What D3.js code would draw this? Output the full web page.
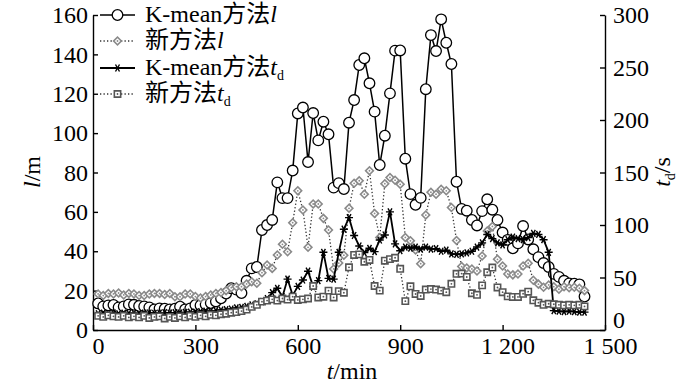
<!DOCTYPE html>
<html><head><meta charset="utf-8">
<script src="https://cdn.jsdelivr.net/npm/d3@7"></script>
<style>
body{margin:0;background:#fff}svg{display:block}
svg text{font-family:'Liberation Serif','DejaVu Serif','Times New Roman',serif,'Noto Sans CJK SC' !important;}
</style>
</head><body>
<svg id="c" width="700" height="384"></svg>
<script>
// ---- data ----
const times = d3.range(15, 1441, 15); // minutes, 96 samples
const kmeanL = [
 13.5,12,12.5,12.7,11.5,12,13,12.8,12.2,12,
 11.5,10.5,11,10.8,10.5,10.8,11.8,10.5,11,12.7,
 12.5,13,13.7,14.5,16.1,18.5,21.2,20.5,18.8,25,
 31.3,32,50.8,53.3,55.9,75,67,67,81,110,
 113,85.3,110.2,96.3,105.8,99.4,72.3,74.6,71.6,105.3,
 116.8,134.6,138,125.3,110.9,83.8,98.7,120.2,141.9,142,
 87,69,63.6,67.1,122.3,149.8,141.7,157.8,145.9,135.1,
 75.3,61.5,60.6,55.9,53.1,60.4,66.4,61.1,55.9,49.5,
 45.8,41.5,44,52.8,46,41,37,34,32,28.5,
 27,25,23.7,23.5,23.2,17];
const newL = [
 18.3,17.5,18.6,18.3,18.8,17.8,18.6,18.3,17.5,17.5,
 18.3,18.6,18.6,18,18.6,16.9,16.9,18.3,18.3,17,
 16.2,17,17.8,18.6,19,20,21.5,22,22,23.4,
 24.5,23.7,29.1,33,31.3,38.1,43.5,39.8,54.5,70.7,
 61,42,64,64,56.7,50.8,31,34,38,61.8,
 74.5,75.8,69,80.9,59.2,47,74.3,77.5,76.1,74,
 47,45.3,40.6,33.7,58.4,70,69,71.5,70.7,62.2,
 45.5,32.2,31.5,31,30,37.6,50.3,52.6,35.9,32.5,
 28.5,28,28.5,32.5,33.9,25.3,23.3,21.7,22.9,22,
 20.7,22,21.5,21.7,21.2,20];
const kmeanTd = [
 15.5,16,15.8,16.2,15.5,16,15.8,16,15.5,16,
 16.2,15.8,16,16.5,16,16.5,16.2,16.8,17,17,
 17.5,18,18,18.5,19,19.5,20,21,21.5,22.5,
 24,25,27,30,35.6,39.7,31.7,48.5,33,41.5,
 47.6,56,41.3,47,74,49.2,48.5,74,96,107,
 90,80,73.7,77.8,74.6,85.7,90.5,112.5,82,75.5,
 79,78,79,77,79,77,77.5,75,76,72.5,
 72,72.5,73.5,75,79,83,91,87,83,81,
 86,88.5,87,86,88,92,91,86,74,18.5,
 18,17.5,18,17.5,17,17];
const newTd = [
 13.5,12.5,14,13,12.5,13.5,12,13,12,13.5,
 11.5,12.5,13,11,12.5,11.5,13,12,13.5,12.5,
 14,13,14.5,14,15,15.5,16.5,17,18,19.5,
 22,24,27,28,29.2,28,30,29,31.7,28.6,
 29.2,30,41.9,31,31.7,37.5,31,37,35.5,59.7,
 71.5,72,65,66.7,41.9,37.5,66,67.5,68.8,58.3,
 27.5,41.6,34.3,32.4,38.5,39,38.5,37.5,36,44,
 53.5,53.7,50.5,35,33.5,42.5,55,59.5,40.5,36,
 32,31.5,31.5,34.5,36.5,28.3,26,24,25,24.5,
 24,23.5,24,23.5,24,22.5];
const xTicks = [0,300,600,900,1200,1500];
const xTickLabels = ["0","300","600","900","1 200","1 500"];
const lTicks = [0,20,40,60,80,100,120,140,160];
const tdTicks = [0,50,100,150,200,250,300];

// ---- layout ----
const L=93, R=605, T=15, B=330;
const x = d3.scaleLinear().domain([0,1500]).range([L,R]);
const yL = d3.scaleLinear().domain([0,160]).range([B,T]);
const yR = d3.scaleLinear().domain([0,300]).range([B,T]);
const svg = d3.select('#c');

function styleAxis(g){
  g.attr('font-family',null).attr('font-size',null);
  g.selectAll('path.domain').attr('stroke','#000').attr('stroke-width',1.4);
  g.selectAll('.tick line').attr('stroke','#000').attr('stroke-width',1.4);
  g.selectAll('text').attr('font-size',24).attr('fill','#000');
}
const gx = svg.append('g').attr('transform',`translate(0,${B})`)
  .call(d3.axisBottom(x).tickValues(xTicks).tickSize(-5).tickSizeOuter(0).tickPadding(7)
    .tickFormat((d,i)=>xTickLabels[i]));
styleAxis(gx);
gx.selectAll('text').attr('dx', 5);
const gl = svg.append('g').attr('transform',`translate(${L},0)`)
  .call(d3.axisLeft(yL).tickValues(lTicks).tickSize(-5).tickSizeOuter(0).tickPadding(5));
styleAxis(gl);
const gr = svg.append('g').attr('transform',`translate(${R},0)`)
  .call(d3.axisRight(yR).tickValues(tdTicks).tickSize(-5).tickSizeOuter(0).tickPadding(8));
styleAxis(gr);
gr.selectAll('text').filter(d=>d===0).attr('dy','-0.12em');

// ---- series ----
const series = [
  {vals:kmeanL, y:yL, line:{stroke:'#000', w:1.5, dash:null}, marker:'circle'},
  {vals:newL, y:yL, line:{stroke:'#333', w:1.3, dash:'1.3,2.2'}, marker:'diamond'},
  {vals:kmeanTd, y:yR, line:{stroke:'#000', w:1.8, dash:null}, marker:'asterisk'},
  {vals:newTd, y:yR, line:{stroke:'#333', w:1.3, dash:'1.3,2.2'}, marker:'square'}
];
const symDiamond = d3.symbol(d3.symbolSquare, 30)();
const symSquare = d3.symbol(d3.symbolSquare, 40)();
const symAst = d3.symbol(d3.symbolAsterisk, 45)();

function drawMarker(sel, type){
  if(type==='circle'){
    sel.append('circle').attr('r',5.3).attr('fill','#fff').attr('stroke','#000').attr('stroke-width',1.3);
  } else if(type==='diamond'){
    sel.append('path').attr('d',symDiamond).attr('transform','rotate(45)')
      .attr('fill','#fff').attr('stroke','#8a8a8a').attr('stroke-width',1.6);
    sel.append('circle').attr('r',0.9).attr('fill','#8a8a8a');
  } else if(type==='square'){
    sel.append('path').attr('d',symSquare)
      .attr('fill','#fff').attr('stroke','#555').attr('stroke-width',1.6);
    sel.append('circle').attr('r',0.9).attr('fill','#555');
  } else {
    sel.append('path').attr('d',symAst).attr('transform','rotate(90)')
      .attr('fill','none').attr('stroke','#000').attr('stroke-width',1.4);
  }
}

series.forEach(s=>{
  const data = times.map((t,i)=>({t, v:s.vals[i]}));
  const line = d3.line().x(d=>x(d.t)).y(d=>s.y(d.v));
  svg.append('path').datum(data).attr('d',line).attr('fill','none')
    .attr('stroke',s.line.stroke).attr('stroke-width',s.line.w)
    .attr('stroke-dasharray',s.line.dash);
  const g = svg.append('g').selectAll('g').data(data).join('g')
    .attr('transform',d=>`translate(${x(d.t)},${s.y(d.v)})`);
  drawMarker(g, s.marker);
});

// ---- legend ----
const legendRows = [
  {y:15, s:series[0], parts:[['K-mean方法','n'],['l','i']]},
  {y:41, s:series[1], parts:[['新方法','n'],['l','i']]},
  {y:68, s:series[2], parts:[['K-mean方法','n'],['t','i'],['d','sub']]},
  {y:94, s:series[3], parts:[['新方法','n'],['t','i'],['d','sub']]}
];
legendRows.forEach(r=>{
  const g = svg.append('g');
  g.append('line').attr('x1',100).attr('x2',135).attr('y1',r.y).attr('y2',r.y)
    .attr('stroke',r.s.line.stroke).attr('stroke-width',r.s.line.w)
    .attr('stroke-dasharray',r.s.line.dash);
  const m = g.append('g').attr('transform',`translate(117.5,${r.y})`);
  drawMarker(m, r.s.marker);
  const t = g.append('text').attr('x',145).attr('y',r.y+7)
    .attr('font-size',24).attr('fill','#000');
  r.parts.forEach(p=>{
    const ts = t.append('tspan').text(p[0]);
    if(p[1]==='i') ts.attr('font-style','italic');
    if(p[1]==='sub') ts.attr('font-size',14).attr('dy',5);
  });
});

// ---- axis titles ----
const tl = svg.append('text').attr('transform','translate(40,172) rotate(-90)')
  .attr('text-anchor','middle').attr('font-size',24);
tl.append('tspan').attr('font-style','italic').text('l');
tl.append('tspan').text('/m');

const tr = svg.append('text').attr('transform','translate(670,172) rotate(-90)')
  .attr('text-anchor','middle').attr('font-size',24);
tr.append('tspan').attr('font-style','italic').text('t');
tr.append('tspan').attr('font-size',14).attr('dy',5).text('d');
tr.append('tspan').attr('dy',-5).text('/s');

const tx = svg.append('text').attr('x',352).attr('y',379)
  .attr('text-anchor','middle').attr('font-size',24);
tx.append('tspan').attr('font-style','italic').text('t');
tx.append('tspan').text('/min');
</script>
</body></html>
